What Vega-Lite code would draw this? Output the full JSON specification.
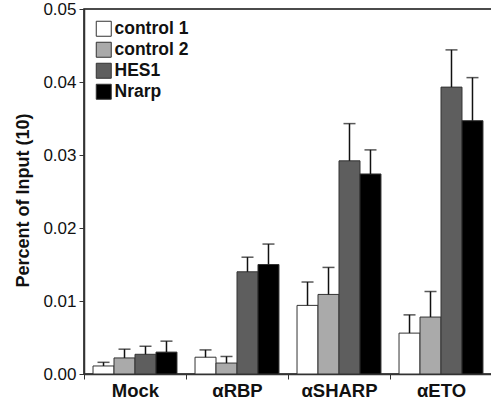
{
  "$schema": "https://vega.github.io/schema/vega-lite/v6.json",
  "autosize": "none",
  "padding": {"left": 84, "top": 9, "right": 0, "bottom": 28},
  "width": 408,
  "height": 365,
  "background": "white",
  "config": {
    "font": "Liberation Sans",
    "view": {"stroke": "#111", "strokeWidth": 1.5},
    "axis": {"domainColor": "#333", "tickColor": "#333", "labelColor": "#111", "titleColor": "#111", "grid": false}
  },
  "data": {"values": [
    {"group": "Mock", "series": "control 1", "value": 0.0011, "hi": 0.0016},
    {"group": "Mock", "series": "control 2", "value": 0.0022, "hi": 0.0034},
    {"group": "Mock", "series": "HES1", "value": 0.0027, "hi": 0.0038},
    {"group": "Mock", "series": "Nrarp", "value": 0.0030, "hi": 0.0045},
    {"group": "αRBP", "series": "control 1", "value": 0.0023, "hi": 0.0033},
    {"group": "αRBP", "series": "control 2", "value": 0.0015, "hi": 0.0024},
    {"group": "αRBP", "series": "HES1", "value": 0.0140, "hi": 0.0160},
    {"group": "αRBP", "series": "Nrarp", "value": 0.0150, "hi": 0.0178},
    {"group": "αSHARP", "series": "control 1", "value": 0.0094, "hi": 0.0126},
    {"group": "αSHARP", "series": "control 2", "value": 0.0109, "hi": 0.0146},
    {"group": "αSHARP", "series": "HES1", "value": 0.0292, "hi": 0.0343},
    {"group": "αSHARP", "series": "Nrarp", "value": 0.0274, "hi": 0.0307},
    {"group": "αETO", "series": "control 1", "value": 0.0056, "hi": 0.0081},
    {"group": "αETO", "series": "control 2", "value": 0.0078, "hi": 0.0113},
    {"group": "αETO", "series": "HES1", "value": 0.0393, "hi": 0.0444},
    {"group": "αETO", "series": "Nrarp", "value": 0.0347, "hi": 0.0406}
  ]},
  "encoding": {
    "x": {
      "field": "group", "type": "nominal",
      "sort": ["Mock", "αRBP", "αSHARP", "αETO"],
      "scale": {"padding": 0},
      "axis": {"title": null, "labelAngle": 0, "labelFontSize": 18.5, "labelFontWeight": "bold", "tickBand": "extent", "tickSize": 5, "labelPadding": 2, "domainWidth": 1.5}
    },
    "xOffset": {
      "field": "series", "type": "nominal",
      "sort": ["control 1", "control 2", "HES1", "Nrarp"],
      "scale": {"paddingInner": 0, "paddingOuter": 0.43}
    }
  },
  "layer": [
    {
      "mark": {"type": "bar", "stroke": "#333", "strokeWidth": 1},
      "encoding": {
        "y": {
          "field": "value", "type": "quantitative",
          "scale": {"domain": [0, 0.05], "nice": false},
          "axis": {
            "title": "Percent of Input (10)", "titleFontSize": 18, "titleFontWeight": "bold", "titlePadding": 10, "titleY": 191,
            "values": [0, 0.005, 0.01, 0.015, 0.02, 0.025, 0.03, 0.035, 0.04, 0.045, 0.05],
            "labelExpr": "abs(datum.value*100 - round(datum.value*100)) < 0.01 ? format(datum.value, '.2f') : ''",
            "labelFontSize": 17, "tickSize": 5, "labelPadding": 3, "domainWidth": 1.5
          }
        },
        "fill": {
          "field": "series", "type": "nominal",
          "sort": ["control 1", "control 2", "HES1", "Nrarp"],
          "scale": {"range": ["#ffffff", "#aaaaaa", "#5e5e5e", "#000000"]},
          "legend": {
            "title": null, "orient": "none", "legendX": 11, "legendY": 11,
            "symbolType": "square", "symbolSize": 225, "symbolStrokeColor": "#333", "symbolStrokeWidth": 1, "symbolOpacity": 1,
            "labelFontSize": 17.5, "labelFontWeight": "bold", "labelColor": "#111", "labelOffset": 2, "rowPadding": 1, "padding": 0
          }
        }
      }
    },
    {
      "mark": {"type": "rule", "color": "#111", "strokeWidth": 1.5},
      "encoding": {
        "y": {"field": "value", "type": "quantitative"},
        "y2": {"field": "hi"}
      }
    },
    {
      "mark": {"type": "tick", "color": "#111", "thickness": 1.5, "size": 12, "orient": "horizontal"},
      "encoding": {
        "y": {"field": "hi", "type": "quantitative"}
      }
    }
  ]
}
